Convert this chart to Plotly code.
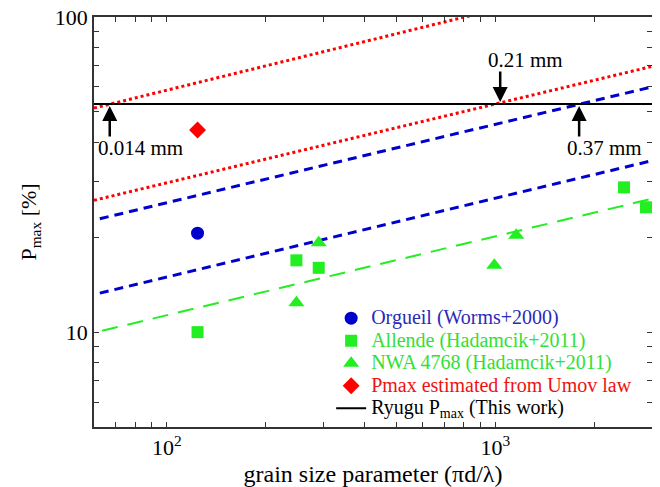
import numpy as np
import plotly.graph_objects as go

# ---- data ----
orgueil_x = [124]
orgueil_y = [20.6]

allende_x = [124, 248, 290, 2466, 2877]
allende_y = [10.0, 16.9, 16.0, 28.8, 24.9]

nwa_x = [248, 290, 993, 1158]
nwa_y = [12.4, 19.2, 16.3, 20.3]

umov_x = [124]
umov_y = [43.8]

ryugu_x = [60, 3000]
ryugu_y = [53, 53]

# fitted power-law lines (end points)
red1_x = [60, 3000]
red1_y = [51.4, 140]
red2_x = [60, 3000]
red2_y = [26.2, 69.7]
blue1_x = [62.5, 3000]
blue1_y = [22.9, 60.0]
blue2_x = [62.5, 3000]
blue2_y = [13.3, 35.0]
green_x = [63.5, 3000]
green_y = [10.1, 26.5]

# arrow markers (grain size parameter where fit meets Ryugu Pmax)
arrow_x = [67, 1035, 1800]
arrow_labels = ["0.014 mm", "0.21 mm", "0.37 mm"]
arrow_y = 53

x_tickvals = [60, 70, 80, 90, 100, 200, 300, 400, 500, 600, 700, 800, 900, 1000, 2000, 3000]
x_ticktext = ["", "", "", "", "10<sup>2</sup>", "", "", "", "", "", "", "", "", "10<sup>3</sup>", "", ""]
y_tickvals = [5, 6, 7, 8, 9, 10, 20, 30, 40, 50, 60, 70, 80, 90, 100]
y_ticktext = ["", "", "", "", "", "10", "", "", "", "", "", "", "", "", "100"]

BLUE = "#0000cc"
GREEN = "#22ee22"
RED = "#ff0000"
FONT = "Liberation Serif"


def leg(text, color):
    return '<span style="font-size:20px;color:%s">%s</span>' % (color, text)


fig = go.Figure()

# fit lines
fig.add_trace(go.Scatter(x=red1_x, y=red1_y, mode="lines", showlegend=False,
                         line=dict(color=RED, width=3, dash="dot")))
fig.add_trace(go.Scatter(x=red2_x, y=red2_y, mode="lines", showlegend=False,
                         line=dict(color=RED, width=3, dash="dot")))
fig.add_trace(go.Scatter(x=blue1_x, y=blue1_y, mode="lines", showlegend=False,
                         line=dict(color=BLUE, width=3, dash="9px,6px")))
fig.add_trace(go.Scatter(x=blue2_x, y=blue2_y, mode="lines", showlegend=False,
                         line=dict(color=BLUE, width=3, dash="9px,6px")))
fig.add_trace(go.Scatter(x=green_x, y=green_y, mode="lines", showlegend=False,
                         line=dict(color=GREEN, width=2, dash="16px,10px")))

# data points
fig.add_trace(go.Scatter(x=orgueil_x, y=orgueil_y, mode="markers",
                         name=leg("Orgueil (Worms+2000)", "#2a2ab8"),
                         marker=dict(symbol="circle", size=13, color=BLUE)))
fig.add_trace(go.Scatter(x=allende_x, y=allende_y, mode="markers",
                         name=leg("Allende (Hadamcik+2011)", "#33e033"),
                         marker=dict(symbol="square", size=12, color=GREEN)))
fig.add_trace(go.Scatter(x=nwa_x, y=nwa_y, mode="markers",
                         name=leg("NWA 4768 (Hadamcik+2011)", "#33e033"),
                         marker=dict(symbol="triangle-up", size=14, color=GREEN)))
fig.add_trace(go.Scatter(x=umov_x, y=umov_y, mode="markers",
                         name=leg("Pmax estimated from Umov law", "#ee1111"),
                         marker=dict(symbol="diamond", size=13, color=RED)))
fig.add_trace(go.Scatter(x=ryugu_x, y=ryugu_y, mode="lines",
                         name=leg("Ryugu P<sub>max</sub> (This work)", "black"),
                         line=dict(color="black", width=2)))

# arrows and labels
ly = np.log10(arrow_y)
arrow_dirs = [1, -1, 1]   # +1: tail below, -1: tail above
label_shift = [(31, -44), (25, 44), (25, -44)]
for xv, lab, d, (xs, ys) in zip(arrow_x, arrow_labels, arrow_dirs, label_shift):
    lx = np.log10(xv)
    fig.add_annotation(x=lx, y=ly, xref="x", yref="y", text="", showarrow=True,
                       ax=0, ay=34 * d, arrowhead=2, arrowsize=1.2, arrowwidth=2.5,
                       arrowcolor="black", standoff=2)
    fig.add_annotation(x=lx, y=ly, xref="x", yref="y", text=lab, showarrow=False,
                       xshift=xs, yshift=ys, font=dict(family=FONT, size=21, color="black"))

axis_common = dict(
    type="log", showline=True, linecolor="#333333", linewidth=1.5, mirror="ticks",
    ticks="inside", ticklen=5, tickwidth=1, tickcolor="#333333", showgrid=False,
    zeroline=False, automargin=False, ticklabeloverflow="allow",
    tickfont=dict(family=FONT, size=22, color="black"),
)

fig.update_xaxes(range=[np.log10(60), np.log10(3000)], tickvals=x_tickvals, ticktext=x_ticktext,
                 title=dict(text="grain size parameter (πd/λ)", font=dict(family=FONT, size=24, color="black"),
                            standoff=7),
                 **axis_common)
fig.update_yaxes(range=[np.log10(5), np.log10(100)], tickvals=y_tickvals, ticktext=y_ticktext,
                 title=dict(text="P<sub>max</sub> [%]", font=dict(family=FONT, size=22, color="black"),
                            standoff=12),
                 **axis_common)

# page body adds an 8px offset, so the figure is 8px smaller with shifted margins
fig.update_layout(
    width=652, height=479,
    margin=dict(l=86, r=8, t=9, b=60),
    paper_bgcolor="white", plot_bgcolor="white",
    font=dict(family=FONT, color="black"),
    legend=dict(x=0.425, y=0.305, xanchor="left", yanchor="top", bgcolor="rgba(0,0,0,0)",
                font=dict(family=FONT, size=15), itemwidth=30, tracegroupgap=0),
)

fig.write_html("out.html")
